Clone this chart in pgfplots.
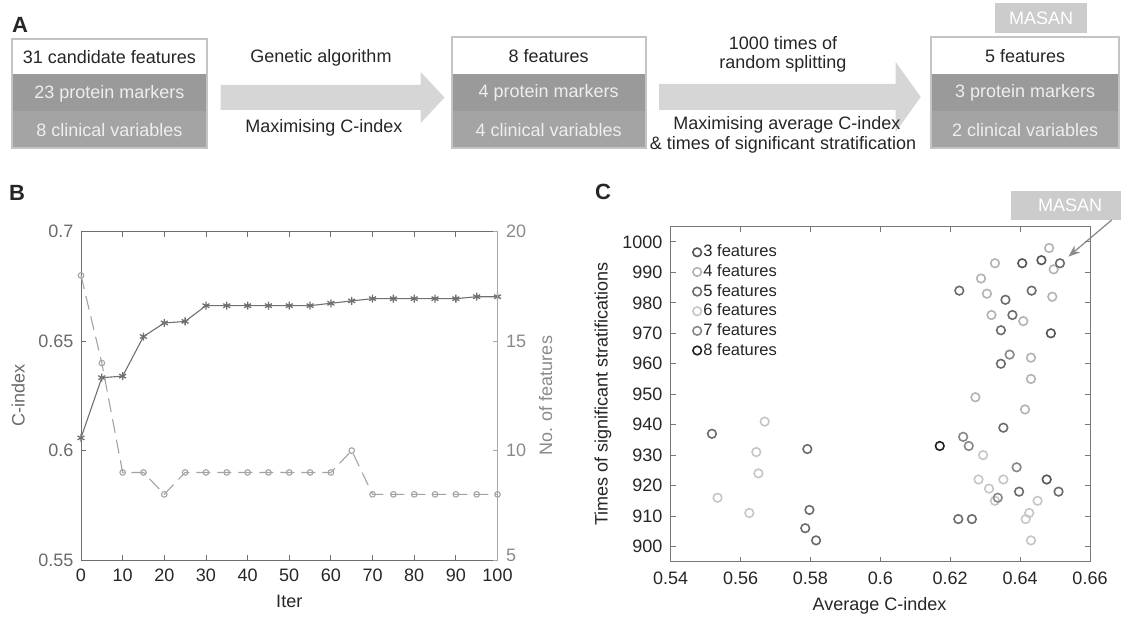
\documentclass[border=0pt]{standalone}
\usepackage{fontspec}
\setmainfont{Liberation Sans}
\usepackage{pgfplots}
\pgfplotsset{compat=1.18}
\usetikzlibrary{arrows.meta}

\definecolor{txt}{HTML}{262626}
\definecolor{axisB}{HTML}{6E6E6E}
\definecolor{leftg}{HTML}{6A6A6A}
\definecolor{rightg}{HTML}{8A8A8A}
\definecolor{rightaxis}{HTML}{A8A8A8}
\definecolor{starc}{HTML}{707070}
\definecolor{circc}{HTML}{A3A3A3}
\definecolor{axisC}{HTML}{777777}
\definecolor{cthree}{HTML}{555555}
\definecolor{cfour}{HTML}{B3B3B3}
\definecolor{cfive}{HTML}{6C6C6C}
\definecolor{csix}{HTML}{C6C6C6}
\definecolor{cseven}{HTML}{878787}
\definecolor{ceight}{HTML}{222222}
\definecolor{boxg1}{HTML}{9A9A9A}
\definecolor{boxg2}{HTML}{A4A4A4}
\definecolor{boxborder}{HTML}{C4C4C4}
\definecolor{arrowg}{HTML}{D6D6D6}
\definecolor{masang}{HTML}{CCCCCC}
\definecolor{lighttxt}{HTML}{EEEEEE}

\newcommand{\fs}{\fontsize{18}{21.6}\selectfont}

\begin{document}
\fs
\begin{tikzpicture}
\path[use as bounding box] (0,0) rectangle (1121pt,619pt);

% ---------------- Panel A (pixel coordinates, y down) ----------------
\begin{scope}[x=1pt,y=-1pt,yshift=619pt]
  \node[font=\bfseries\fontsize{22}{22}\selectfont, text=txt] at (20,25) {A};
  \node[font=\bfseries\fontsize{22}{22}\selectfont, text=txt] at (17,193) {B};
  \node[font=\bfseries\fontsize{22}{22}\selectfont, text=txt] at (603,192) {C};

  % left box
  \fill[white] (11.8,39.3) rectangle (207,74);
  \fill[boxg1] (11.8,74) rectangle (207,111.5);
  \fill[boxg2] (11.8,111.5) rectangle (207,148.3);
  \draw[boxborder, line width=2pt] (11.8,39.3) rectangle (207,148.3);
  \node[text=txt] at (109.4,57.5) {31 candidate features};
  \node[text=lighttxt] at (109.4,93.5) {23 protein markers};
  \node[text=lighttxt] at (109.4,130) {8 clinical variables};

  % arrow 1
  \fill[arrowg] (220.7,85) -- (420.7,85) -- (420.7,72) -- (444.6,97.5) -- (420.7,123) -- (420.7,110) -- (220.7,110) -- cycle;
  \node[text=txt] at (321,58.3) {Genetic algorithm};
  \node[text=txt] at (324,128.3) {Maximising C-index};

  % middle box
  \fill[white] (451.8,37.3) rectangle (645.7,74);
  \fill[boxg1] (451.8,74) rectangle (645.7,111);
  \fill[boxg2] (451.8,111) rectangle (645.7,148.3);
  \draw[boxborder, line width=2pt] (451.8,37.3) rectangle (645.7,148.3);
  \node[text=txt] at (548.7,56) {8 features};
  \node[text=lighttxt] at (548.7,93) {4 protein markers};
  \node[text=lighttxt] at (548.7,130) {4 clinical variables};

  % arrow 2
  \fill[arrowg] (659,84) -- (895.7,84) -- (895.7,62) -- (920.7,97) -- (895.7,132) -- (895.7,110) -- (659,110) -- cycle;
  \node[text=txt] at (783,42.7) {1000 times of};
  \node[text=txt] at (783,64.3) {random splitting};
  \node[text=txt] at (787,125) {Maximising average C-index};
  \node[text=txt] at (783,145) {\& times of significant stratification};

  % right box
  \fill[white] (931.4,37.3) rectangle (1119,74);
  \fill[boxg1] (931.4,74) rectangle (1119,111);
  \fill[boxg2] (931.4,111) rectangle (1119,148.3);
  \draw[boxborder, line width=2pt] (931.4,37.3) rectangle (1119,148.3);
  \node[text=txt] at (1025.2,56) {5 features};
  \node[text=lighttxt] at (1025.2,93) {3 protein markers};
  \node[text=lighttxt] at (1025.2,130) {2 clinical variables};

  % MASAN top label
  \fill[masang] (995,3.3) rectangle (1087,32.7);
  \node[text=white] at (1041,18) {MASAN};

  % MASAN label in panel C
  \fill[masang] (1011,191) rectangle (1121,220);
  \node[text=white] at (1070,205.7) {MASAN};
  \draw[color=black!45, line width=1.3pt, -{Stealth[length=12pt,width=9pt]}] (1111.7,220) -- (1068.3,256.7);
\end{scope}

% ---------------- Panel B ----------------
\begin{axis}[
  at={(81pt,59pt)}, anchor=south west, scale only axis,
  width=416.5pt, height=328.3pt,
  xmin=0, xmax=100, ymin=0.55, ymax=0.7,
  axis y line*=left, axis x line*=box,
  x axis line style={-, draw=axisB, line width=0.9pt},
  y axis line style={-, draw=axisB, line width=0.9pt},
  xtick={0,10,20,30,40,50,60,70,80,90,100},
  xticklabels={0,10,20,30,40,50,60,70,80,90,100},
  ytick={0.55,0.6,0.65,0.7},
  yticklabels={0.55,0.6,0.65,0.7},
  xtick pos=both, xticklabel pos=bottom, ytick pos=left,
  tick align=inside, major tick length=5pt,
  tick style={draw=axisB, line width=0.9pt},
  x tick label style={text=txt, font=\fs, anchor=north, inner sep=0pt, yshift=-9pt},
  y tick label style={text=leftg, font=\fs, anchor=east, inner sep=0pt, xshift=-7.5pt},
  xlabel={Iter}, ylabel={C-index},
  xlabel style={text=txt, font=\fs, at={(axis description cs:0.5,-0.127)}, anchor=center},
  ylabel style={text=leftg, font=\fs, at={(axis description cs:-0.151,0.5)}, anchor=center},
  clip=false,
]
\addplot[color=starc, line width=1.1pt, mark=asterisk, mark size=4pt, mark options={line width=1.3pt}] coordinates {
(0,0.6058) (5,0.6333) (10,0.6340) (15,0.6521) (20,0.6583) (25,0.6590) (30,0.6662) (35,0.6662) (40,0.6662) (45,0.6662) (50,0.6662) (55,0.6662) (60,0.6673) (65,0.6684) (70,0.6694) (75,0.6694) (80,0.6694) (85,0.6694) (90,0.6694) (95,0.6703) (100,0.6703)
};
\end{axis}

\begin{axis}[
  at={(81pt,59pt)}, anchor=south west, scale only axis,
  width=416.5pt, height=328.3pt,
  xmin=0, xmax=100, ymin=5, ymax=20,
  axis y line*=right, axis x line=none,
  y axis line style={-, draw=rightaxis, line width=0.9pt},
  ytick={10,15,20}, yticklabels={10,15,20},
  extra y ticks={5}, extra y tick labels={5},
  extra y tick style={y tick label style={yshift=5pt}},
  ytick pos=right,
  tick align=inside, major tick length=5pt,
  tick style={draw=rightaxis, line width=0.9pt},
  y tick label style={text=rightg, font=\fs, anchor=west, inner sep=0pt, xshift=8.5pt},
  ylabel={No. of features},
  ylabel style={text=rightg, font=\fs, at={(axis description cs:1.116,0.5)}, anchor=center, rotate=0},
  clip=false,
]
\addplot[color=circc, line width=1.1pt, dash pattern=on 14pt off 7pt, mark=o, mark size=2.8pt, mark options={solid, line width=1.1pt}] coordinates {
(0,18) (5,14) (10,9) (15,9) (20,8) (25,9) (30,9) (35,9) (40,9) (45,9) (50,9) (55,9) (60,9) (65,10) (70,8) (75,8) (80,8) (85,8) (90,8) (95,8) (100,8)
};
\end{axis}

% ---------------- Panel C ----------------
\begin{axis}[
  at={(670.7pt,57.3pt)}, anchor=south west, scale only axis,
  width=419.3pt, height=335pt,
  xmin=0.54, xmax=0.66, ymin=895, ymax=1005,
  axis line style={draw=axisC, line width=0.9pt},
  xtick={0.54,0.56,0.58,0.6,0.62,0.64,0.66},
  xticklabels={0.54,0.56,0.58,0.6,0.62,0.64,0.66},
  ytick={900,910,920,930,940,950,960,970,980,990,1000},
  yticklabels={900,910,920,930,940,950,960,970,980,990,1000},
  tick align=inside, major tick length=5pt,
  tick style={draw=axisC, line width=0.9pt},
  x tick label style={text=txt, font=\fs, anchor=north, inner sep=0pt, yshift=-10.5pt},
  y tick label style={text=txt, font=\fs, anchor=east, inner sep=0pt, xshift=-8pt},
  xlabel={Average C-index}, ylabel={Times of significant stratifications},
  xlabel style={text=txt, font=\fs, at={(axis description cs:0.498,-0.132)}, anchor=center},
  ylabel style={text=txt, font=\fs, at={(axis description cs:-0.1615,0.5)}, anchor=center},
  legend style={draw=none, fill=none, at={(0.05,0.955)}, anchor=north west,
    font=\fontsize{16.5}{16.5}\selectfont, text=txt, row sep=1pt, inner sep=1pt},
  legend cell align=left,
  clip=false,
]
\addplot[only marks, mark=o, mark size=4.3pt, color=cthree, mark options={line width=1.6pt}] coordinates {
(0.6406,993) (0.6461,994) (0.6488,970) (0.6476,922)
};
\addlegendentry{3 features}
\addplot[only marks, mark=o, mark size=4.3pt, color=cfour, mark options={line width=1.6pt}] coordinates {
(0.6483,998) (0.6328,993) (0.6496,991) (0.6288,988) (0.6305,983) (0.6492,982) (0.6318,976) (0.6409,974) (0.6431,962) (0.6431,955) (0.6272,949) (0.6414,945)
};
\addlegendentry{4 features}
\addplot[only marks, mark=o, mark size=4.3pt, color=cfive, mark options={line width=1.6pt}] coordinates {
(0.6514,993) (0.6226,984) (0.6358,981) (0.6433,984) (0.6378,976) (0.6345,971) (0.6345,960) (0.6352,939) (0.6397,918) (0.6510,918) (0.6223,909) (0.6262,909) (0.5518,937) (0.5791,932) (0.5797,912) (0.5785,906) (0.5816,902)
};
\addlegendentry{5 features}
\addplot[only marks, mark=o, mark size=4.3pt, color=csix, mark options={line width=1.6pt}] coordinates {
(0.6294,930) (0.6281,922) (0.6352,922) (0.6311,919) (0.6328,915) (0.6450,915) (0.6426,911) (0.6416,909) (0.6431,902) (0.5669,941) (0.5645,931) (0.5651,924) (0.5534,916) (0.5625,911)
};
\addlegendentry{6 features}
\addplot[only marks, mark=o, mark size=4.3pt, color=cseven, mark options={line width=1.6pt}] coordinates {
(0.6370,963) (0.6237,936) (0.6253,933) (0.6390,926) (0.6336,916)
};
\addlegendentry{7 features}
\addplot[only marks, mark=o, mark size=4.3pt, color=ceight, mark options={line width=1.6pt}] coordinates {
(0.6170,933)
};
\addlegendentry{8 features}
\end{axis}
\end{tikzpicture}
\end{document}
